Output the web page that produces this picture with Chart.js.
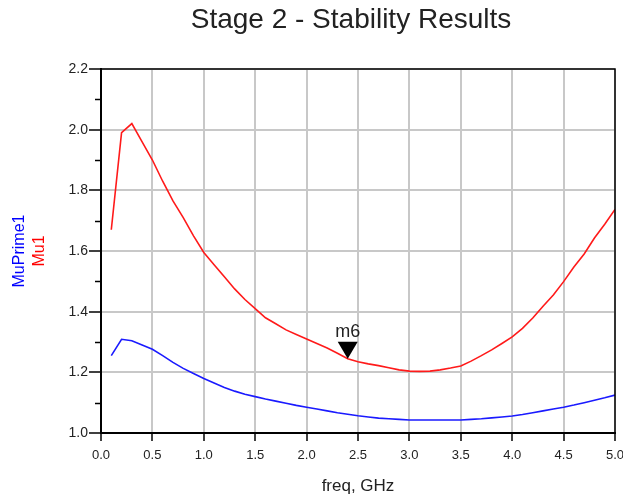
<!DOCTYPE html>
<html lang="en">
<head>
    <meta charset="UTF-8">
    <title>Stage 2 - Stability Results</title>
    <script src="https://cdn.jsdelivr.net/npm/chart.js"></script>
    <style>
        html, body {
            margin: 0;
            padding: 0;
            background: #ffffff;
        }
    </style>
</head>
<body>
    <canvas id="stabChart" width="623" height="499"></canvas>

    <script>
        // frequency points, GHz
        const freq = [0.1, 0.2, 0.3, 0.4, 0.5, 0.6, 0.7, 0.8, 0.9, 1.0,
                      1.1, 1.2, 1.3, 1.4, 1.5, 1.6, 1.7, 1.8, 1.9, 2.0,
                      2.1, 2.2, 2.3, 2.4, 2.5, 2.6, 2.7, 2.8, 2.9, 3.0,
                      3.1, 3.2, 3.3, 3.4, 3.5, 3.6, 3.7, 3.8, 3.9, 4.0,
                      4.1, 4.2, 4.3, 4.4, 4.5, 4.6, 4.7, 4.8, 4.9, 5.0];

        const mu1 = [1.67, 1.99, 2.02, 1.96, 1.90, 1.83, 1.765, 1.71, 1.65, 1.595,
                     1.555, 1.515, 1.475, 1.44, 1.41, 1.38, 1.36, 1.34, 1.325, 1.31,
                     1.295, 1.28, 1.263, 1.245, 1.235, 1.228, 1.222, 1.215, 1.208, 1.204,
                     1.203, 1.204, 1.208, 1.214, 1.221, 1.237, 1.255, 1.274, 1.295, 1.317,
                     1.345, 1.379, 1.418, 1.455, 1.499, 1.547, 1.59, 1.643, 1.688, 1.737];

        const muPrime1 = [1.255, 1.309, 1.304, 1.29, 1.276, 1.255, 1.233, 1.213, 1.196, 1.18,
                          1.165, 1.15, 1.138, 1.128, 1.12, 1.112, 1.105, 1.098, 1.091, 1.085,
                          1.079, 1.073, 1.067, 1.062, 1.057, 1.053, 1.049, 1.047, 1.045, 1.043,
                          1.043, 1.043, 1.043, 1.043, 1.043, 1.045, 1.047, 1.05, 1.053, 1.056,
                          1.061, 1.067, 1.073, 1.079, 1.085, 1.092, 1.1, 1.108, 1.116, 1.125];

        // marker m6
        const markerName = "m6";
        const markerFreq = 2.4;
        const markerValue = mu1[freq.indexOf(markerFreq)];

        const xTicks = [0.0, 0.5, 1.0, 1.5, 2.0, 2.5, 3.0, 3.5, 4.0, 4.5, 5.0];
        const yTicks = [1.0, 1.2, 1.4, 1.6, 1.8, 2.0, 2.2];

        const FONT = "'Liberation Sans', Arial, sans-serif";

        const textPlugin = {
            id: "textPlugin",
            afterDraw(chart) {
                const ctx = chart.ctx;
                const area = chart.chartArea;
                const xs = chart.scales.x;
                const ys = chart.scales.y;

                // frame on top and right
                ctx.save();
                ctx.strokeStyle = "#000000";
                ctx.lineWidth = 1.5;
                ctx.beginPath();
                ctx.moveTo(area.left, area.top);
                ctx.lineTo(area.right, area.top);
                ctx.lineTo(area.right, area.bottom);
                ctx.stroke();

                // minor ticks on y axis
                for (let i = 0; i < yTicks.length - 1; i++) {
                    const mid = (yTicks[i] + yTicks[i + 1]) / 2;
                    const py = Math.round(ys.getPixelForValue(mid)) + 0.5;
                    ctx.beginPath();
                    ctx.moveTo(area.left - 6, py);
                    ctx.lineTo(area.left, py);
                    ctx.stroke();
                }

                // marker
                const mx = xs.getPixelForValue(markerFreq);
                const my = ys.getPixelForValue(markerValue);
                ctx.fillStyle = "#000000";
                ctx.beginPath();
                ctx.moveTo(mx, my);
                ctx.lineTo(mx - 10, my - 17);
                ctx.lineTo(mx + 10, my - 17);
                ctx.closePath();
                ctx.fill();
                ctx.fillStyle = "#222222";
                ctx.font = "18px " + FONT;
                ctx.textAlign = "center";
                ctx.textBaseline = "alphabetic";
                ctx.fillText(markerName, mx, my - 22);

                // title
                ctx.font = "28px " + FONT;
                ctx.fillStyle = "#222222";
                ctx.fillText("Stage 2 - Stability Results", 351, 28);

                // y axis names
                ctx.font = "16px " + FONT;
                ctx.translate(20, 251);
                ctx.rotate(-Math.PI / 2);
                ctx.textBaseline = "middle";
                ctx.fillStyle = "#0000ff";
                ctx.fillText("MuPrime1", 0, 0);
                ctx.rotate(Math.PI / 2);
                ctx.translate(20, 0);
                ctx.rotate(-Math.PI / 2);
                ctx.fillStyle = "#ff0000";
                ctx.fillText("Mu1", 0, 0);
                ctx.restore();
            }
        };

        const ctx = document.getElementById("stabChart").getContext("2d");
        new Chart(ctx, {
            type: "line",
            data: {
                datasets: [
                    {
                        label: "Mu1",
                        data: freq.map((f, i) => ({ x: f, y: mu1[i] })),
                        borderColor: "#ff1a1a",
                        borderWidth: 1.6,
                        pointRadius: 0,
                        tension: 0
                    },
                    {
                        label: "MuPrime1",
                        data: freq.map((f, i) => ({ x: f, y: muPrime1[i] })),
                        borderColor: "#1a1aff",
                        borderWidth: 1.6,
                        pointRadius: 0,
                        tension: 0
                    }
                ]
            },
            options: {
                responsive: false,
                animation: false,
                devicePixelRatio: 1,
                layout: {
                    padding: { top: 69, right: 8, left: 0, bottom: 0 }
                },
                plugins: {
                    legend: { display: false },
                    tooltip: { enabled: false }
                },
                scales: {
                    x: {
                        type: "linear",
                        min: 0,
                        max: 5,
                        afterFit: s => {
                            s.height = 66;
                            s.paddingLeft = 0;
                            s.paddingRight = 0;
                        },
                        afterBuildTicks: s => { s.ticks = xTicks.map(v => ({ value: v })); },
                        grid: {
                            color: "#c8c8c8",
                            lineWidth: 2,
                            tickColor: "#000000",
                            tickLength: 8,
                            tickWidth: 1.5
                        },
                        border: { color: "#000000", width: 2 },
                        ticks: {
                            autoSkip: false,
                            maxRotation: 0,
                            padding: 7,
                            color: "#222222",
                            font: { family: FONT, size: 13 },
                            callback: v => v.toFixed(1)
                        },
                        title: {
                            display: true,
                            text: "freq, GHz",
                            color: "#222222",
                            font: { family: FONT, size: 17 },
                            padding: { top: 0, bottom: 2 }
                        }
                    },
                    y: {
                        min: 1.0,
                        max: 2.2,
                        afterFit: s => {
                            s.width = 101;
                            s.paddingTop = 0;
                            s.paddingBottom = 0;
                        },
                        afterBuildTicks: s => { s.ticks = yTicks.map(v => ({ value: v })); },
                        grid: {
                            color: "#c8c8c8",
                            lineWidth: 2,
                            tickColor: "#000000",
                            tickLength: 12,
                            tickWidth: 1.5
                        },
                        border: { color: "#000000", width: 2 },
                        ticks: {
                            autoSkip: false,
                            padding: 1,
                            color: "#222222",
                            font: { family: FONT, size: 14 },
                            callback: v => v.toFixed(1)
                        }
                    }
                }
            },
            plugins: [textPlugin]
        });
    </script>
</body>
</html>
